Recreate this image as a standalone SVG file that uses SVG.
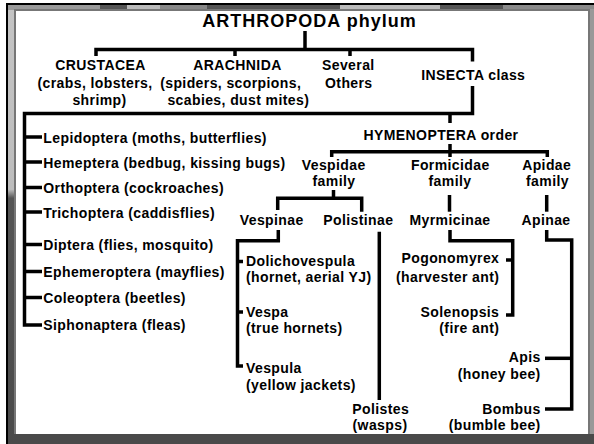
<svg xmlns="http://www.w3.org/2000/svg" width="594" height="444" viewBox="0 0 594 444">
<defs>
<style>
.t{font-family:"Liberation Sans",Arial,Helvetica,sans-serif;font-weight:bold;font-size:14px;letter-spacing:0.4px;fill:#000}
.m{text-anchor:middle}
.e{text-anchor:end}
.title{font-size:18px;letter-spacing:1px}
.c{fill:none;stroke:#000;stroke-width:3.5;stroke-linejoin:miter;stroke-linecap:butt}
</style>
<linearGradient id="lg" x1="0" y1="0" x2="0" y2="1">
<stop offset="0" stop-color="#c4c4c4"/>
<stop offset="0.42" stop-color="#bdbdbd"/>
<stop offset="0.44" stop-color="#555"/>
<stop offset="1" stop-color="#4a4a4a"/>
</linearGradient>
</defs>
<g id="frame">
<rect x="0" y="0" width="594" height="444" fill="#fff"/>
<rect x="6" y="3" width="588" height="441" fill="#000"/>
<rect x="8" y="5" width="586" height="439" fill="url(#lg)"/>
<rect x="8" y="5" width="92" height="5" fill="#9a9a9a"/>
<rect x="100" y="5" width="27" height="5" fill="#555"/>
<rect x="127" y="5" width="33" height="5" fill="#bbb"/>
<rect x="160" y="5" width="47" height="5" fill="#888"/>
<rect x="207" y="5" width="133" height="5" fill="#555"/>
<rect x="340" y="5" width="100" height="5" fill="#bbb"/>
<rect x="440" y="5" width="63" height="5" fill="#555"/>
<rect x="503" y="5" width="91" height="5" fill="#8a8a8a"/>
<rect x="14" y="9" width="580" height="2" fill="#777"/>
<rect x="14" y="9" width="2" height="425" fill="#777"/>
<rect x="588" y="9" width="6" height="435" fill="#999"/>
<rect x="588" y="9" width="2" height="425" fill="#777"/>
<rect x="16" y="11" width="572" height="423" fill="#fff"/>
<rect x="14" y="434" width="580" height="10" fill="#4a4a4a"/>
</g>
<g id="connectors">
<path class="c" d="M305 31V49.5"/>
<path class="c" d="M96 56V49.5H472.5V61.5"/>
<path class="c" d="M235 49.5V56"/>
<path class="c" d="M350 49.5V56"/>
<path class="c" d="M472.5 86V113.5H24.5V325H42"/>
<path class="c" d="M24.5 137H42M24.5 162H42M24.5 187.5H42M24.5 212H42M24.5 244.5H42M24.5 271.5H42M24.5 297.5H42"/>
<path class="c" d="M450 113.5V123"/>
<path class="c" d="M331.7 157V151.7H547.3V157"/>
<path class="c" d="M450 144V157"/>
<path class="c" d="M333.5 190V198.3"/>
<path class="c" d="M277.7 210V198.3H361.7V211.7"/>
<path class="c" d="M449.5 195V211.7"/>
<path class="c" d="M546.7 195V211.7"/>
<path class="c" d="M278.3 230V240.7H237.5V366H243"/>
<path class="c" d="M237.5 261.5H243M237.5 312H243"/>
<path class="c" d="M379.3 231.7V400"/>
<path class="c" d="M450 230V240.7H512.7V315H506"/>
<path class="c" d="M506 260H512.7"/>
<path class="c" d="M546.7 230V240H571.7V409H545"/>
<path class="c" d="M545 358.3H571.7"/>
</g>
<g id="arthropoda"><text class="t m title" x="309.5" y="27">ARTHROPODA phylum</text></g>
<g id="crustacea">
<text class="t m" x="100.5" y="70">CRUSTACEA</text>
<text class="t m" x="95" y="87.5">(crabs, lobsters,</text>
<text class="t m" x="99.5" y="105">shrimp)</text>
</g>
<g id="arachnida">
<text class="t m" x="237.5" y="70">ARACHNIDA</text>
<text class="t m" x="230.7" y="87.5">(spiders, scorpions,</text>
<text class="t m" x="238.3" y="105">scabies, dust mites)</text>
</g>
<g id="others">
<text class="t m" x="348.3" y="70">Several</text>
<text class="t m" x="348.8" y="87.5">Others</text>
</g>
<g id="insecta"><text class="t m" x="473.3" y="79.5">INSECTA class</text></g>
<g id="lepidoptera"><text class="t" x="43.3" y="142.5">Lepidoptera (moths, butterflies)</text></g>
<g id="hemeptera"><text class="t" x="43.3" y="167.5">Hemeptera (bedbug, kissing bugs)</text></g>
<g id="orthoptera"><text class="t" x="43.3" y="193">Orthoptera (cockroaches)</text></g>
<g id="trichoptera"><text class="t" x="43.3" y="218">Trichoptera (caddisflies)</text></g>
<g id="diptera"><text class="t" x="43.3" y="250">Diptera (flies, mosquito)</text></g>
<g id="ephemeroptera"><text class="t" x="43.3" y="277">Ephemeroptera (mayflies)</text></g>
<g id="coleoptera"><text class="t" x="43.3" y="303">Coleoptera (beetles)</text></g>
<g id="siphonaptera"><text class="t" x="43.3" y="330">Siphonaptera (fleas)</text></g>
<g id="hymenoptera"><text class="t m" x="441" y="139.5">HYMENOPTERA order</text></g>
<g id="vespidae">
<text class="t m" x="333.7" y="169.5">Vespidae</text>
<text class="t m" x="334" y="185.5">family</text>
</g>
<g id="formicidae">
<text class="t m" x="450.3" y="169.5">Formicidae</text>
<text class="t m" x="450" y="185.5">family</text>
</g>
<g id="apidae">
<text class="t m" x="546.7" y="169.5">Apidae</text>
<text class="t m" x="547.5" y="185.5">family</text>
</g>
<g id="vespinae"><text class="t m" x="271.7" y="225">Vespinae</text></g>
<g id="polistinae"><text class="t m" x="358.3" y="225">Polistinae</text></g>
<g id="myrmicinae"><text class="t m" x="450" y="225">Myrmicinae</text></g>
<g id="apinae"><text class="t m" x="546" y="225">Apinae</text></g>
<g id="dolichovespula">
<text class="t" x="246" y="265.5">Dolichovespula</text>
<text class="t" x="246" y="282">(hornet, aerial YJ)</text>
</g>
<g id="vespa">
<text class="t" x="246" y="317">Vespa</text>
<text class="t" x="246" y="333">(true hornets)</text>
</g>
<g id="vespula">
<text class="t" x="246" y="373">Vespula</text>
<text class="t" x="246" y="390">(yellow jackets)</text>
</g>
<g id="polistes">
<text class="t m" x="380.8" y="413.5">Polistes</text>
<text class="t m" x="380" y="430">(wasps)</text>
</g>
<g id="pogonomyrex">
<text class="t e" x="499.3" y="263">Pogonomyrex</text>
<text class="t e" x="499.3" y="281.5">(harvester ant)</text>
</g>
<g id="solenopsis">
<text class="t e" x="499.3" y="316.7">Solenopsis</text>
<text class="t e" x="499.3" y="333">(fire ant)</text>
</g>
<g id="apis">
<text class="t e" x="540.7" y="362">Apis</text>
<text class="t e" x="540.7" y="378.5">(honey bee)</text>
</g>
<g id="bombus">
<text class="t e" x="540.7" y="413.5">Bombus</text>
<text class="t e" x="540.7" y="430">(bumble bee)</text>
</g>
</svg>
